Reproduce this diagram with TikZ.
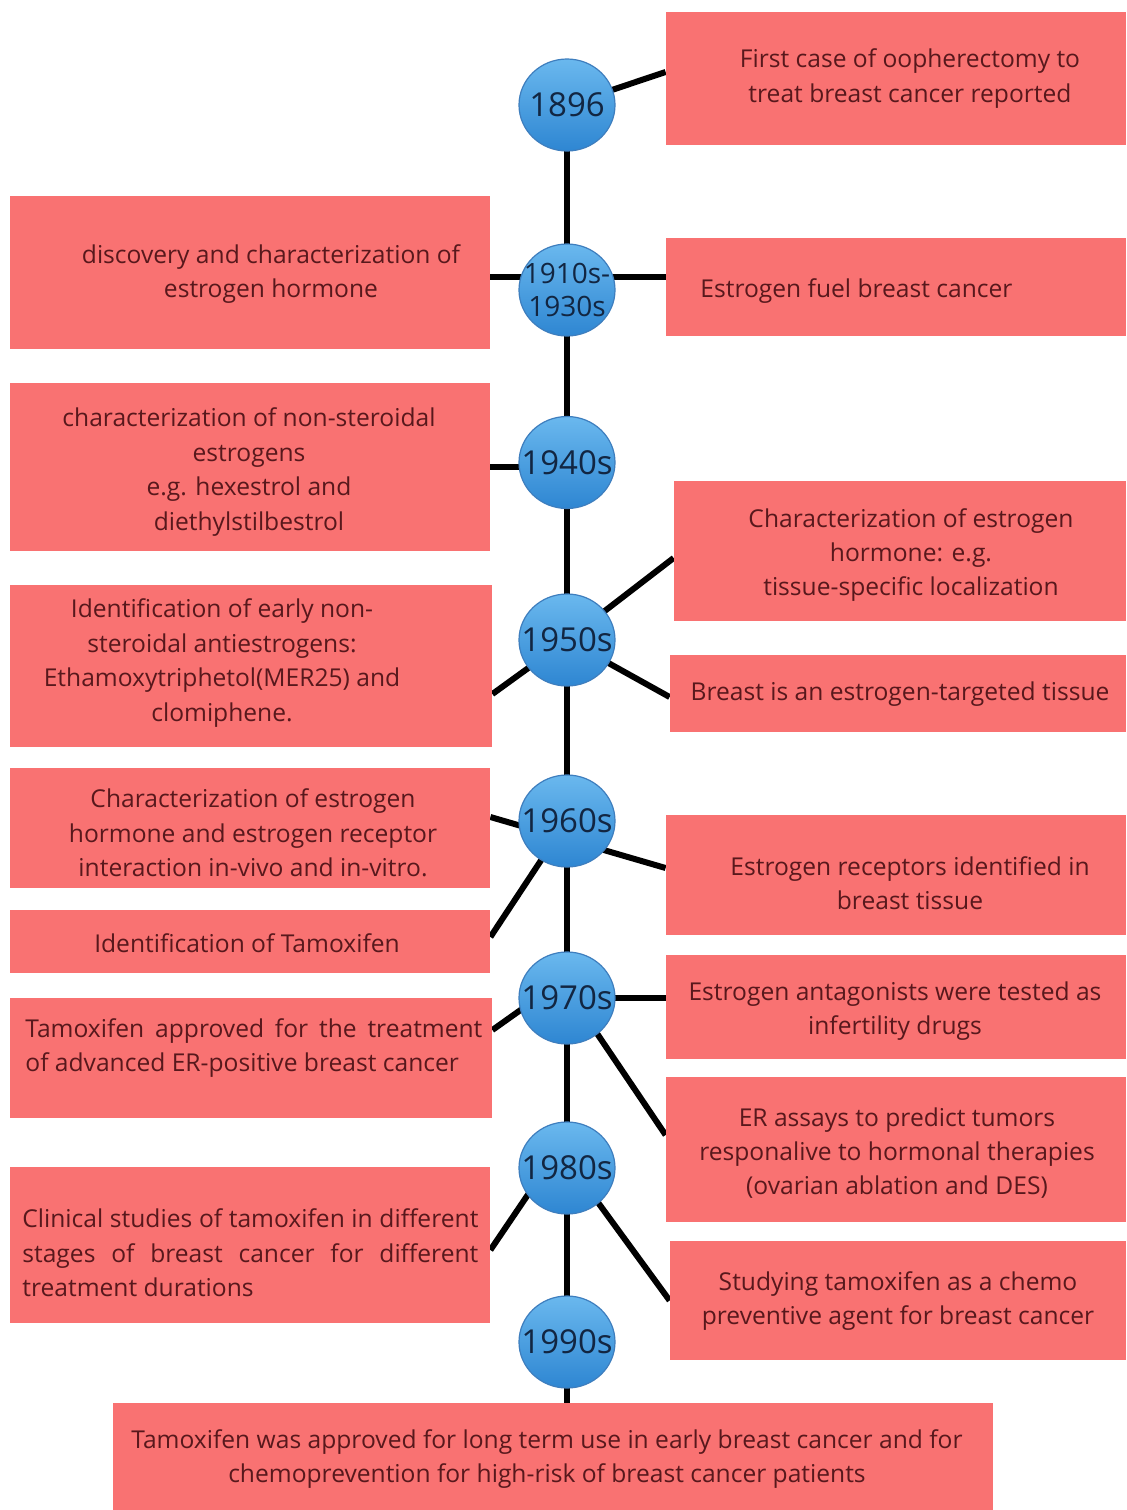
\documentclass[tikz,border=0pt]{standalone}
\usepackage{fontspec}
\setmainfont{Open Sans}
\usetikzlibrary{shapes.geometric}
\definecolor{boxred}{RGB}{249,114,114}
\definecolor{boxtext}{RGB}{88,24,28}
\definecolor{yeartop}{RGB}{106,184,238}
\definecolor{yearbot}{RGB}{46,134,210}
\definecolor{yearedge}{RGB}{62,126,190}
\definecolor{yeartext}{RGB}{18,38,66}
\pgfdeclarelayer{background}
\pgfdeclarelayer{canvas}
\pgfsetlayers{canvas,background,main}
\tikzset{
  box/.style={rectangle, fill=boxred, draw=none, inner sep=0pt},
  boxtxt/.style={text=boxtext, font=\fontsize{12.3}{17.2}\selectfont, align=center, inner sep=0pt},
  year/.style={ellipse, minimum width=48pt, minimum height=46pt, inner sep=0pt,
    top color=yeartop, bottom color=yearbot, draw=yearedge, line width=0.6pt},
  yeartxt/.style={text=yeartext, align=center, inner sep=0pt, font=\fontsize{16.5}{16.5}\selectfont},
  yeartxtsmall/.style={yeartxt, font=\fontsize{14}{16.5}\selectfont},
  link/.style={line width=3pt, black}
}
\begin{document}
\begin{tikzpicture}[x=0.5pt, y=-0.5pt]
\begin{pgfonlayer}{canvas}
  \fill[white] (0,0) rectangle (1126,1510);
\end{pgfonlayer}
\useasboundingbox (0,0) rectangle (1126,1510);

% event boxes
\node[box, minimum width=230pt, minimum height=66.5pt] (b1) at (896,78.5) {};
\node[box, minimum width=240pt, minimum height=76.5pt] (b2) at (250,272.5) {};
\node[box, minimum width=230pt, minimum height=49pt] (b3) at (896,287) {};
\node[box, minimum width=240pt, minimum height=84pt] (b4) at (250,467) {};
\node[box, minimum width=226pt, minimum height=70pt] (b5) at (900,551) {};
\node[box, minimum width=241pt, minimum height=81pt] (b6) at (251,666) {};
\node[box, minimum width=228pt, minimum height=38.5pt] (b7) at (898,693.5) {};
\node[box, minimum width=240pt, minimum height=60pt] (b8) at (250,828) {};
\node[box, minimum width=230pt, minimum height=60pt] (b9) at (896,875) {};
\node[box, minimum width=240pt, minimum height=31.5pt] (b10) at (250,941.5) {};
\node[box, minimum width=230pt, minimum height=52pt] (b11) at (896,1007) {};
\node[box, minimum width=241pt, minimum height=60pt] (b12) at (251,1058) {};
\node[box, minimum width=230pt, minimum height=72.5pt] (b13) at (896,1149.5) {};
\node[box, minimum width=240pt, minimum height=78pt] (b14) at (250,1245) {};
\node[box, minimum width=228pt, minimum height=59.5pt] (b15) at (898,1300.5) {};
\node[box, minimum width=440pt, minimum height=53.5pt] (b16) at (553,1456.5) {};

% event texts
\node[boxtxt] (t1) at (910,78.5) {First case of oopherectomy to\\treat breast cancer reported};
\node[boxtxt] (t2) at (271,274) {discovery and characterization of\\estrogen hormone};
\node[boxtxt, anchor=west] (t3) at (700,291) {Estrogen fuel breast cancer};
\node[boxtxt] (t4) at (249,472) {characterization of non-steroidal\\estrogens\\e.g. hexestrol and\\diethylstilbestrol};
\node[boxtxt] (t5) at (911,555) {Characterization of estrogen\\hormone: e.g.\\tissue-specific localization};
\node[boxtxt] (t6) at (222,663) {Identification of early non-\\steroidal antiestrogens:\\Ethamoxytriphetol(MER25) and\\clomiphene.};
\node[boxtxt] (t7) at (900,694) {Breast is an estrogen-targeted tissue};
\node[boxtxt] (t8) at (253,833) {Characterization of estrogen\\hormone and estrogen receptor\\interaction in-vivo and in-vitro.};
\node[boxtxt] (t9) at (910,883) {Estrogen receptors identified in\\breast tissue};
\node[boxtxt] (t10) at (247,943) {Identification of Tamoxifen};
\node[boxtxt] (t11) at (895,1011) {Estrogen antagonists were tested as\\infertility drugs};
\node[boxtxt, align=justify, text width=228.5pt, anchor=west] (t12) at (25,1048)
  {Tamoxifen approved for the treatment\linebreak of advanced ER-positive breast cancer};
\node[boxtxt] (t13) at (897,1153) {ER assays to predict tumors\\responalive to hormonal therapies\\(ovarian ablation and DES)};
\node[boxtxt, align=justify, text width=228pt, anchor=west] (t14) at (22,1253)
  {Clinical studies of tamoxifen in different\linebreak stages of breast cancer for different\linebreak treatment durations};
\node[boxtxt] (t15) at (898,1301) {Studying tamoxifen as a chemo\\preventive agent for breast cancer};
\node[boxtxt] (t16) at (547,1459) {Tamoxifen was approved for long term use in early breast cancer and for\\chemoprevention for high-risk of breast cancer patients};

% year markers
\node[year, label={[yeartxt]center:1896}] (c1) at (567,105) {};
\node[year, label={[yeartxtsmall]center:{1910s-\\1930s}}] (c2) at (567,290) {};
\node[year, label={[yeartxt]center:1940s}] (c3) at (567,462.5) {};
\node[year, label={[yeartxt]center:1950s}] (c4) at (567,640) {};
\node[year, label={[yeartxt]center:1960s}] (c5) at (567,821) {};
\node[year, label={[yeartxt]center:1970s}] (c6) at (567,998) {};
\node[year, label={[yeartxt]center:1980s}] (c7) at (567,1168) {};
\node[year, label={[yeartxt]center:1990s}] (c8) at (567,1342) {};

% connectors, behind boxes and markers
\begin{pgfonlayer}{background}
  \draw[link] (c1.center) -- (c8.center);
  \draw[link] (c8.center) -- (c8.center |- b16.north);
  \draw[link] (c1.center) -- ([yshift=3.25pt]b1.west);
  \draw[link] ([yshift=-2.25pt]b2.east) -- ([yshift=5pt]b3.west);
  \draw[link] (b4.east) -- (b4.east -| c3.center);
  \draw[link] (c4.center) -- ([yshift=-3.5pt]b5.west);
  \draw[link] (c4.center) -- ([yshift=-1.75pt]b7.west);
  \draw[link] (c4.center) -- ([yshift=-14pt]b6.east);
  \draw[link] ([yshift=5.5pt]b8.east) -- ([yshift=3.5pt]b9.west);
  \draw[link] (c5.center) -- ([yshift=2.25pt]b10.east);
  \draw[link] (c6.center) -- (c6.center -| b11.west);
  \draw[link] ([yshift=10.5pt]c6.center) -- ([yshift=14pt]b12.east);
  \draw[link] ([yshift=4.5pt]c6.center) -- ([yshift=7.25pt]b13.west);
  \draw[link] ([yshift=15.5pt]c7.center) -- ([yshift=-2.5pt]b14.east);
  \draw[link] ([yshift=4pt]c7.center) -- (b15.west);
\end{pgfonlayer}
\end{tikzpicture}
\end{document}
